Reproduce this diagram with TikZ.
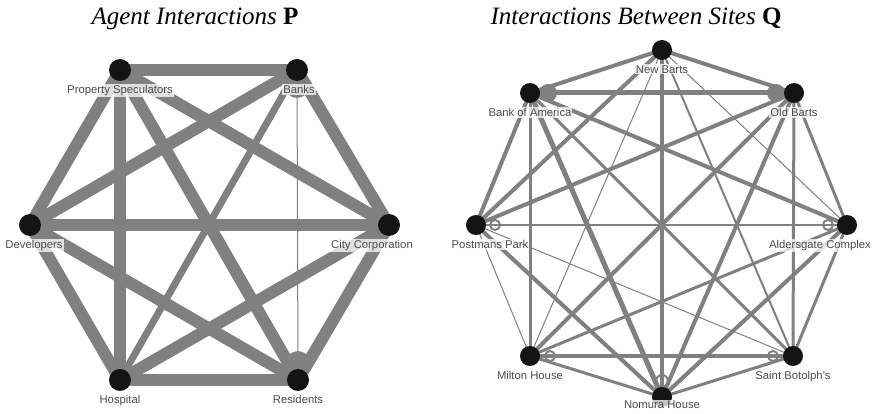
\documentclass[tikz,border=0pt]{standalone}
\usepackage{fontspec}
\setmainfont{Liberation Serif}
\setsansfont{Liberation Sans}
\usetikzlibrary{positioning,backgrounds}
\definecolor{edgegray}{gray}{0.5}
\definecolor{labelgray}{gray}{0.3}
\tikzset{
    agent/.style={circle, fill=black!92, inner sep=0pt, minimum size=22pt},
    site/.style={agent, minimum size=20pt},
    tag/.style={font=\sffamily\fontsize{11.3}{12}\selectfont, text=labelgray, fill=white, fill opacity=0.75, text opacity=1, inner sep=1pt},
    link/.style={draw=edgegray, line width=#1},
    title/.style={font=\fontsize{25}{28}\selectfont, anchor=base},
    selfring/.style={draw=edgegray, line width=2pt},
    selfblob/.style={fill=edgegray}
}

\begin{document}
\begin{tikzpicture}[x=1pt,y=-1pt]
	\useasboundingbox (0,0) rectangle (879,414);
	\begin{scope}[on background layer]
		\fill[white] (0,0) rectangle (879,414);
	\end{scope}

	% titles
	\node[title] (ptitle) at (195,25) {\textit{Agent Interactions} \textbf{P}};
	\node[title] (qtitle) at (636,25) {\textit{Interactions Between Sites} \textbf{Q}};

	% agent graph P
	\node[agent] (ps) at (120,70) {};
	\node[agent] (bk) at (297,70) {};
	\node[agent] (dv) at (30,225) {};
	\node[agent] (cc) at (389,225) {};
	\node[agent] (hp) at (120,380) {};
	\node[agent] (rs) at (298,380) {};

	\begin{scope}[on background layer]
		\foreach \a/\b/\w in {ps/bk/12, ps/dv/12, ps/hp/12, ps/rs/12, ps/cc/12,
			bk/dv/12, bk/hp/7, bk/rs/1, bk/cc/12,
			dv/cc/12, dv/hp/12, dv/rs/12,
			cc/hp/12, cc/rs/12, hp/rs/12}
			\draw[link=\w pt] (\a.center) -- (\b.center);
		\fill[selfblob] ([yshift=-16pt]bk.center) circle (12pt);
		\fill[selfblob] ([yshift=17pt]rs.center) circle (12pt);
	\end{scope}

	\node[tag, below=3pt of ps] (psl) {Property Speculators};
	\node[tag, below=3pt of bk, xshift=2pt] (bkl) {Banks};
	\node[tag, below=3pt of dv, xshift=4pt] (dvl) {Developers};
	\node[tag, below=3pt of cc, xshift=-17pt] (ccl) {City Corporation};
	\node[tag, below=3pt of hp] (hpl) {Hospital};
	\node[tag, below=3pt of rs] (rsl) {Residents};

	% site graph Q
	\node[site] (nb) at (662,50) {};
	\node[site] (ba) at (530,93) {};
	\node[site] (ob) at (794,93) {};
	\node[site] (pp) at (476,225) {};
	\node[site] (ac) at (847,225) {};
	\node[site] (mh) at (530,356) {};
	\node[site] (sb) at (793,356) {};
	\node[site] (nh) at (662,397) {};

	\begin{scope}[on background layer]
		\foreach \a/\b/\w in {nb/ba/4, nb/ob/4, nb/pp/4, nb/ac/1, nb/mh/1, nb/sb/2, nb/nh/4,
			ba/ob/5, ba/pp/4, ba/mh/3, ba/nh/5, ba/sb/3, ba/ac/4,
			ob/ac/3, ob/sb/3, ob/nh/4, ob/mh/4, ob/pp/4,
			pp/ac/2, pp/mh/1, pp/nh/4, pp/sb/1,
			ac/sb/3, ac/mh/3, ac/nh/4,
			mh/sb/4, mh/nh/3, sb/nh/3}
			\draw[link=\w pt] (\a.center) -- (\b.center);
		\fill[selfblob] ([xshift=18pt]ba.center) circle (9pt);
		\fill[selfblob] ([xshift=-18pt]ob.center) circle (9pt);
		\draw[selfring] ([xshift=19pt]pp.center) circle (5pt);
		\draw[selfring] ([xshift=-19pt]ac.center) circle (5pt);
		\draw[selfring] ([xshift=20pt]mh.center) circle (5pt);
		\draw[selfring] ([xshift=-20pt]sb.center) circle (5pt);
		\draw[selfring] ([yshift=16pt]nh.center) circle (6pt);
	\end{scope}

	\node[tag, below=4pt of nb] (nbl) {New Barts};
	\node[tag, below=4pt of ba] (bal) {Bank of America};
	\node[tag, below=4pt of ob] (obl) {Old Barts};
	\node[tag, below=4pt of pp, xshift=14pt] (ppl) {Postmans Park};
	\node[tag, below=4pt of ac, xshift=-27pt] (acl) {Aldersgate Complex};
	\node[tag, below=4pt of mh] (mhl) {Milton House};
	\node[tag, below=4pt of sb] (sbl) {Saint Botolph's};
	\node[tag] (nhl) at ([yshift=-8pt]nh.center) {Nomura House};
\end{tikzpicture}
\end{document}
